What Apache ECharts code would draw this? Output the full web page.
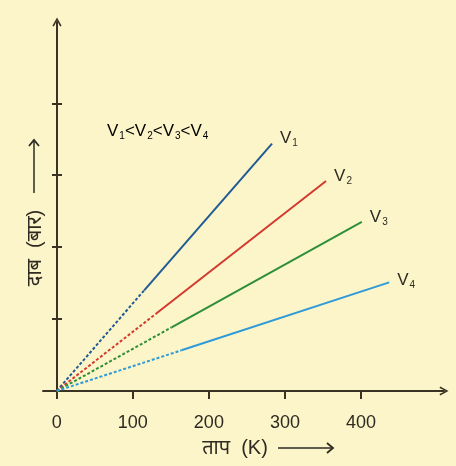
<!DOCTYPE html>
<html>
<head>
<meta charset="utf-8">
<script src="https://cdn.jsdelivr.net/npm/echarts@6/dist/echarts.min.js"></script>
<style>
  html, body { margin: 0; padding: 0; background: #fcf5c9; }
  #main { width: 456px; height: 466px; }
</style>
</head>
<body>
<div id="main"></div>
<script>
// tick positions
var xTicks = [0, 100, 200, 300, 400];
var yTicks = [1, 2, 3, 4];

// lines: dashed part from origin up to dashEnd, solid part from dashEnd to lineEnd
var lineNames = ['V1', 'V2', 'V3', 'V4'];
var lineSubs = ['1', '2', '3', '4'];
var dashEnd = [[115, 1.40], [130, 1.07], [151, 0.885], [164, 0.566]];
var lineEnd = [[283, 3.44], [354, 2.92], [401, 2.35], [437, 1.51]];
var lineColors = ['#205b94', '#d23a2e', '#2e8f3a', '#2f9ad8'];

var axisColor = '#3a3222';
var textColor = '#2e2a22';
// open arrow head, pointing up
var chevron = 'path://M0,9 L5,0 L10,9 L8.4,9.8 L5,3.2 L1.6,9.8 Z';

var subRich = {
    v: { fontSize: 17, color: textColor, lineHeight: 20, fontFamily: 'Liberation Sans' },
    s: { fontSize: 10, color: textColor, lineHeight: 20, verticalAlign: 'bottom', padding: [9, 0, 0, 1], fontFamily: 'Liberation Sans' }
};

var myChart = echarts.init(document.getElementById('main'));

var series = [];
for (var i = 0; i < lineNames.length; i++) {
    series.push({
        name: lineNames[i] + '_dash',
        type: 'line',
        data: [[0, 0], dashEnd[i]],
        symbol: 'none',
        silent: true,
        lineStyle: { color: lineColors[i], width: 2, type: [3, 2] }
    });
    series.push({
        name: lineNames[i],
        type: 'line',
        data: [dashEnd[i], lineEnd[i]],
        symbol: 'none',
        silent: true,
        lineStyle: { color: lineColors[i], width: 2 },
        endLabel: {
            show: true,
            offset: i == 3 ? [0, -2] : [0, -5],
            formatter: '{v|V}{s|' + lineSubs[i] + '}',
            rich: subRich
        }
    });
}

// the y axis sits on x = 0, 14px inside the grid's left edge
var yAxisBase = {
    type: 'value',
    position: 'left',
    offset: -14,
    min: 0,
    max: 5.13,
    splitLine: { show: false },
    axisLabel: { show: false }
};

var option = {
    backgroundColor: '#fcf5c9',
    animation: false,
    grid: { left: 43, right: 12, top: 22, bottom: 75 },
    xAxis: {
        type: 'value',
        min: -18,
        max: 509,
        splitLine: { show: false },
        axisLine: {
            show: true,
            onZero: true,
            symbol: ['none', chevron],
            symbolSize: [11, 9],
            lineStyle: { color: axisColor, width: 2 }
        },
        axisTick: {
            show: true,
            length: 8,
            customValues: xTicks,
            lineStyle: { color: axisColor, width: 2 }
        },
        axisLabel: {
            show: true,
            customValues: xTicks,
            margin: 23,
            fontSize: 18,
            color: textColor,
            fontFamily: 'Liberation Sans'
        }
    },
    yAxis: [echarts.util.merge({
        axisLine: {
            show: true,
            onZero: false,
            symbol: ['none', chevron],
            symbolSize: [11, 9],
            lineStyle: { color: axisColor, width: 2 }
        },
        axisTick: {
            show: true,
            length: 5,
            customValues: yTicks,
            lineStyle: { color: axisColor, width: 2 }
        }
    }, yAxisBase), echarts.util.merge({
        axisLine: { show: false, onZero: false },
        axisTick: {
            show: true,
            inside: true,
            length: 5,
            customValues: yTicks,
            lineStyle: { color: axisColor, width: 2 }
        }
    }, yAxisBase)],
    graphic: [{
        type: 'text',
        left: 107,
        top: 122,
        style: {
            text: '{v|V}{s|1}{v|<V}{s|2}{v|<V}{s|3}{v|<V}{s|4}',
            rich: subRich
        }
    }, {
        // x axis title
        type: 'text',
        x: 235,
        y: 448,
        style: {
            text: 'ताप  (K)',
            font: '20px "Liberation Sans", "Noto Sans", sans-serif',
            fill: textColor,
            align: 'center',
            verticalAlign: 'middle'
        }
    }, {
        type: 'polyline',
        shape: { points: [[278, 448], [333, 448]] },
        style: { stroke: textColor, lineWidth: 1.5, fill: null }
    }, {
        type: 'polyline',
        shape: { points: [[327, 443], [333, 448], [327, 453]] },
        style: { stroke: textColor, lineWidth: 1.8, fill: null }
    }, {
        // y axis title
        type: 'text',
        x: 35,
        y: 248,
        rotation: Math.PI / 2,
        style: {
            text: 'दाब  (बार)',
            font: '20px "Liberation Sans", "Noto Sans", sans-serif',
            fill: textColor,
            align: 'center',
            verticalAlign: 'middle'
        }
    }, {
        type: 'polyline',
        shape: { points: [[34, 193], [34, 140]] },
        style: { stroke: textColor, lineWidth: 1.5, fill: null }
    }, {
        type: 'polyline',
        shape: { points: [[29, 146], [34, 140], [39, 146]] },
        style: { stroke: textColor, lineWidth: 1.8, fill: null }
    }],
    series: series
};

myChart.setOption(option);
</script>
</body>
</html>
